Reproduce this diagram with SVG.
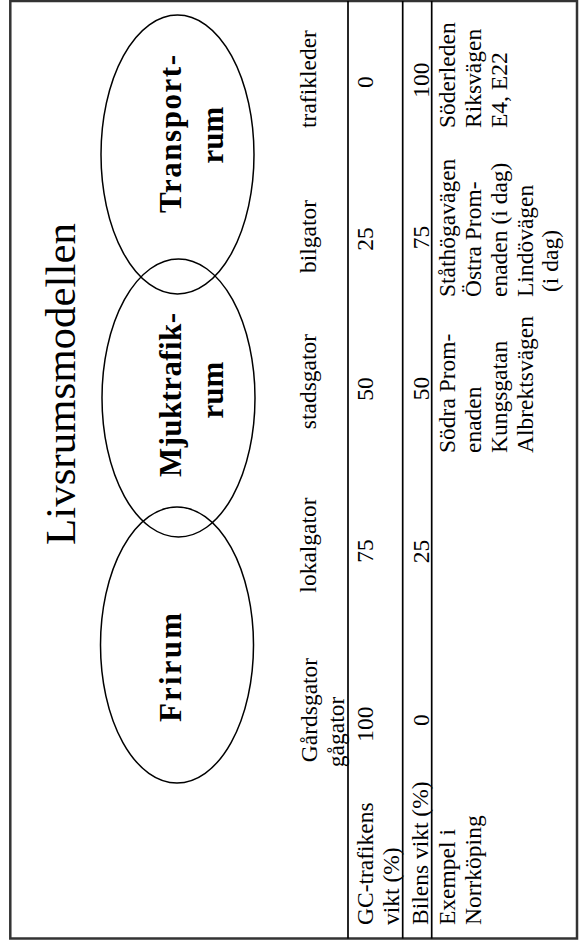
<svg xmlns="http://www.w3.org/2000/svg" width="580" height="943" viewBox="0 0 580 943">
<style>
text{font-family:"Liberation Serif","Times New Roman",serif;fill:#000}
.t{font-size:23.5px}
.m{text-anchor:middle}
.b{font-size:31px;font-weight:bold;text-anchor:middle}
.title{font-size:43px;text-anchor:middle}
.ell{fill:none;stroke:#000;stroke-width:1.5}
.rule{stroke:#000;stroke-width:1.7}
.frame{fill:none;stroke:#333;stroke-width:2.5}
</style>
<rect width="580" height="943" fill="#fff"/>
<g transform="translate(0,943) rotate(-90)">
  <rect class="frame" x="4.5" y="10.3" width="937.5" height="566.7"/>
  <text id="title" class="title" x="559" y="75" textLength="322" lengthAdjust="spacingAndGlyphs">Livsrumsmodellen</text>

  <g id="transportrum">
    <ellipse class="ell" cx="788.5" cy="177.5" rx="139.5" ry="76.5"/>
    <text class="b" x="809" y="181" textLength="158" lengthAdjust="spacing">Transport-</text>
    <text class="b" x="808" y="223">rum</text>
  </g>
  <g id="mjuktrafikrum">
    <ellipse class="ell" cx="545" cy="178.5" rx="139" ry="76.5"/>
    <text class="b" x="548" y="181" textLength="164" lengthAdjust="spacing">Mjuktrafik-</text>
    <text class="b" x="553" y="223">rum</text>
  </g>
  <g id="frirum">
    <ellipse class="ell" cx="298" cy="177" rx="138" ry="76.5"/>
    <text class="b" x="275.5" y="181" textLength="109" lengthAdjust="spacing">Frirum</text>
  </g>

  <g id="table-lines">
    <line class="rule" x1="4.5" y1="348" x2="942" y2="348"/>
    <line class="rule" x1="4.5" y1="402.7" x2="942" y2="402.7"/>
    <line class="rule" x1="4.5" y1="431.7" x2="942" y2="431.7"/>
  </g>
  <g id="connectors"/>

  <g id="street-types" class="t m">
    <text x="864" y="316">trafikleder</text>
    <text x="706.5" y="316">bilgator</text>
    <text x="561.5" y="316">stadsgator</text>
    <text x="398" y="316">lokalgator</text>
    <text x="233" y="317">Gårdsgator</text>
    <text x="211" y="344">gågator</text>
  </g>

  <g id="row-gc" class="t">
    <text x="18" y="373">GC-trafikens</text>
    <text x="18" y="399">vikt (%)</text>
    <g class="m">
      <text x="861" y="373">0</text>
      <text x="704" y="373">25</text>
      <text x="554" y="373">50</text>
      <text x="392" y="373">75</text>
      <text x="219" y="373">100</text>
    </g>
  </g>

  <g id="row-bil" class="t">
    <text x="18" y="428">Bilens vikt (%)</text>
    <g class="m">
      <text x="863" y="429">100</text>
      <text x="705.5" y="429">75</text>
      <text x="554.5" y="429">50</text>
      <text x="391.5" y="429">25</text>
      <text x="223" y="429">0</text>
    </g>
  </g>

  <g id="row-exempel" class="t">
    <text x="18" y="455">Exempel i</text>
    <text x="18" y="481">Norrköping</text>
    <text x="490" y="455">Södra Prom-</text>
    <text x="490" y="481">enaden</text>
    <text x="490" y="507">Kungsgatan</text>
    <text x="490" y="533">Albrektsvägen</text>
    <text x="646" y="455">Ståthögavägen</text>
    <text x="646" y="481">Östra Prom-</text>
    <text x="646" y="507">enaden (i dag)</text>
    <text x="646" y="533">Lindövägen</text>
    <text x="651" y="558">(i dag)</text>
    <text x="815" y="455">Söderleden</text>
    <text x="815" y="481">Riksvägen</text>
    <text x="815" y="507">E4, E22</text>
  </g>
</g>
</svg>
